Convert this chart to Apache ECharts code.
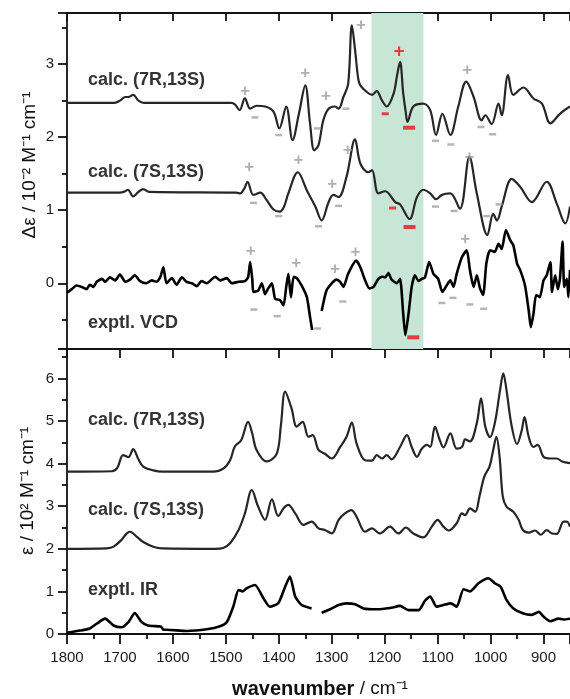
<!DOCTYPE html>
<html><head><meta charset="utf-8">
<script src="https://cdn.jsdelivr.net/npm/echarts@6/dist/echarts.min.js"></script>
<style>html,body{margin:0;padding:0;background:#fff}#c{width:570px;height:699px}</style>
</head><body><div id="c"></div>
<script>
// ---- data: [wavenumber (cm-1), value] ----
const vcd7R = [[1800,2.47],[1710,2.47],[1700,2.5],[1690,2.55],[1684,2.55],[1675,2.58],[1665,2.5],[1655,2.47],[1490,2.47],[1483,2.45],[1474,2.37],[1464,2.53],[1454,2.39],[1442,2.43],[1426,2.42],[1410,2.35],[1399,2.12],[1386,2.42],[1374,1.96],[1362,2.32],[1350,2.71],[1341,2.19],[1333,1.82],[1325,1.89],[1316,2.23],[1306,2.39],[1294,2.42],[1287,2.39],[1278,2.55],[1269,2.73],[1262,3.53],[1256,3.2],[1250,2.8],[1246,2.71],[1234,2.62],[1224,2.58],[1215,2.63],[1205,2.5],[1196,2.42],[1183,2.6],[1177,2.83],[1171,3.03],[1165,2.6],[1160,2.33],[1157,2.21],[1146,2.42],[1127,2.46],[1114,2.37],[1103,2.03],[1091,2.32],[1076,2.03],[1061,2.42],[1046,2.76],[1032,2.55],[1017,2.23],[1010,2.3],[998,2.18],[985,2.46],[979,2.3],[967,2.85],[957,2.58],[938,2.68],[919,2.53],[903,2.46],[887,2.19],[869,2.32],[850,2.42]];
const vcd7S = [[1800,1.24],[1700,1.24],[1690,1.26],[1685,1.28],[1675,1.19],[1665,1.25],[1656,1.29],[1645,1.25],[1480,1.24],[1473,1.23],[1465,1.3],[1459,1.39],[1448,1.21],[1435,1.24],[1423,1.14],[1410,1.01],[1398,0.98],[1390,1.05],[1382,1.23],[1364,1.52],[1347,1.27],[1331,1.05],[1319,0.86],[1306,1.11],[1297,1.21],[1287,1.18],[1272,1.46],[1256,1.97],[1246,1.64],[1231,1.52],[1224,1.55],[1212,1.23],[1199,1.26],[1180,1.11],[1171,1.08],[1153,0.88],[1139,1.18],[1127,1.28],[1114,1.23],[1103,1.15],[1092,1.21],[1076,1.23],[1058,1.02],[1040,1.73],[1026,1.23],[1006,0.66],[995,0.95],[988,0.86],[979,1.05],[960,1.43],[944,1.32],[922,1.11],[894,1.39],[875,1.09],[859,0.82],[850,1.05]];
const vcdExp = [[1800,-0.13],[1791,-0.08],[1782,-0.03],[1772,-0.05],[1763,-0.08],[1757,-0.02],[1750,-0.05],[1744,0.02],[1734,0.06],[1728,0.02],[1719,0.08],[1709,0.04],[1700,0.12],[1690,0.02],[1681,0.05],[1672,0.11],[1662,0.03],[1650,0.0],[1640,0.04],[1631,0.02],[1624,0.08],[1618,0.22],[1612,0.0],[1602,0.07],[1593,-0.02],[1583,0.08],[1574,0.02],[1564,0.0],[1555,-0.04],[1546,0.03],[1536,0.0],[1520,0.09],[1511,0.04],[1498,0.07],[1489,0.0],[1476,0.02],[1464,0.03],[1458,0.08],[1454,0.29],[1450,0.05],[1448,-0.12],[1439,-0.1],[1432,0],[1426,-0.15],[1420,-0.07],[1413,0],[1407,-0.21],[1398,-0.23],[1391,-0.3],[1386,-0.05],[1382,0.13],[1377,-0.19],[1372,0.09],[1366,0.07],[1357,-0.03],[1347,-0.19],[1341,-0.46],[1337,-0.64],[1328,null],[1319,-0.38],[1310,-0.1],[1300,0],[1291,0.05],[1284,0.02],[1278,-0.05],[1269,0.13],[1254,0.31],[1246,0.22],[1237,0.04],[1229,-0.07],[1221,-0.05],[1212,0.06],[1205,0.09],[1199,0.08],[1193,0.14],[1187,0.05],[1177,0.0],[1171,0.06],[1165,-0.42],[1161,-0.71],[1155,-0.42],[1149,-0.05],[1143,0.11],[1136,0.03],[1130,0.06],[1124,0.08],[1116,0.29],[1108,0.13],[1099,0.06],[1091,-0.12],[1083,-0.03],[1076,0.04],[1070,-0.05],[1064,0.13],[1054,0.36],[1045,0.45],[1039,0.18],[1032,-0.05],[1026,0.11],[1020,-0.07],[1014,-0.16],[1008,0.27],[1001,0.45],[992,0.43],[985,0.54],[979,0.47],[971,0.73],[963,0.59],[957,0.52],[950,0.27],[944,0.18],[935,-0.03],[928,-0.37],[924,-0.6],[919,-0.42],[914,-0.16],[907,-0.19],[900,0.04],[894,0.11],[887,0.29],[884,-0.12],[878,0.11],[873,-0.08],[869,0.06],[864,0.57],[861,-0.05],[856,0.06],[853,-0.19],[850,0.18]];

const ir7R = [[1800,3.81],[1715,3.82],[1705,3.9],[1694,4.2],[1684,4.15],[1675,4.34],[1665,4.1],[1656,3.93],[1637,3.84],[1620,3.81],[1524,3.81],[1505,3.88],[1492,4.08],[1483,4.4],[1471,4.55],[1458,4.98],[1450,4.7],[1442,4.32],[1423,4.05],[1404,4.23],[1396,4.9],[1388,5.69],[1376,5.3],[1366,4.87],[1355,4.98],[1344,4.63],[1336,4.67],[1325,4.32],[1313,4.23],[1300,4.12],[1284,4.39],[1272,4.63],[1262,4.96],[1253,4.47],[1237,4.08],[1224,4.07],[1215,4.2],[1205,4.12],[1196,4.2],[1187,4.1],[1171,4.39],[1158,4.67],[1149,4.39],[1139,4.16],[1130,4.35],[1120,4.44],[1114,4.39],[1105,4.87],[1097,4.59],[1089,4.38],[1076,4.71],[1064,4.35],[1054,4.39],[1048,4.57],[1039,4.52],[1026,4.95],[1018,5.53],[1010,4.87],[1001,4.62],[992,4.95],[982,5.73],[976,6.12],[970,5.73],[960,4.87],[950,4.46],[941,4.79],[936,5.09],[928,4.63],[919,4.39],[911,4.44],[900,4.16],[887,4.12],[875,4.12],[865,4.05],[850,4.01]];
const ir7S = [[1800,2.0],[1725,2.01],[1712,2.05],[1697,2.21],[1688,2.35],[1681,2.4],[1668,2.28],[1656,2.16],[1637,2.05],[1620,2.01],[1520,2.0],[1505,2.02],[1492,2.13],[1476,2.44],[1464,2.83],[1451,3.38],[1439,2.99],[1426,2.68],[1413,3.16],[1401,2.77],[1391,2.95],[1382,3.03],[1369,2.83],[1353,2.56],[1338,2.64],[1325,2.48],[1313,2.44],[1300,2.36],[1287,2.68],[1275,2.83],[1263,2.91],[1253,2.75],[1237,2.4],[1224,2.48],[1209,2.36],[1190,2.52],[1174,2.36],[1160,2.5],[1146,2.36],[1127,2.27],[1111,2.52],[1100,2.68],[1089,2.52],[1079,2.43],[1064,2.6],[1054,2.83],[1048,2.79],[1039,2.95],[1029,2.87],[1021,3.23],[1012,3.69],[1002,3.93],[995,4.32],[989,4.63],[983,4.16],[977,3.23],[970,2.99],[957,2.87],[947,2.68],[939,2.44],[928,2.38],[916,2.43],[905,2.33],[894,2.44],[884,2.36],[875,2.35],[862,2.64],[856,2.64],[850,2.52]];
const irExp = [[1800,0.03],[1775,0.08],[1757,0.13],[1744,0.24],[1728,0.36],[1712,0.2],[1697,0.16],[1684,0.28],[1672,0.49],[1659,0.28],[1647,0.2],[1628,0.18],[1622,0.17],[1618,0.1],[1612,0.1],[1574,0.07],[1536,0.11],[1511,0.18],[1498,0.28],[1486,0.64],[1476,1.03],[1468,1.0],[1461,1.07],[1445,1.15],[1429,0.84],[1417,0.64],[1401,0.72],[1388,1.11],[1379,1.35],[1369,0.88],[1357,0.68],[1338,0.6],[1328,null],[1319,0.5],[1303,0.58],[1287,0.68],[1272,0.72],[1256,0.7],[1240,0.6],[1215,0.58],[1190,0.61],[1171,0.66],[1155,0.56],[1136,0.56],[1124,0.78],[1114,0.88],[1102,0.64],[1089,0.68],[1075,0.72],[1064,0.64],[1051,1.05],[1039,1.0],[1023,1.19],[1004,1.31],[992,1.19],[981,1.11],[970,0.8],[957,0.6],[938,0.48],[922,0.45],[909,0.52],[900,0.41],[887,0.3],[872,0.36],[862,0.34],[850,0.36]];

// sign annotations on the VCD panel
const plusGray = [[1464,2.63],[1350,2.88],[1311,2.56],[1245,3.53],[1044,2.92],[1456,1.59],[1363,1.68],[1299,1.35],[1270,1.82],[1040,1.72],[1453,0.44],[1367,0.27],[1294,0.19],[1255,0.42],[1048,0.6]];
const minusGray = [[1445,2.27],[1400,2.03],[1327,2.12],[1273,2.39],[1104,1.95],[1075,1.9],[1018,2.14],[996,2.04],[1448,1.1],[1400,0.92],[1325,0.78],[1287,1.06],[1104,1.05],[1069,0.99],[1007,0.92],[984,1.08],[1447,-0.36],[1403,-0.45],[1327,-0.62],[1279,-0.25],[1092,-0.27],[1071,-0.2],[1039,-0.29],[1013,-0.35]];
const plusRed = [[1173,3.17]];
const minusRedSmall = [[1199,2.32],[1185,1.03]];
const minusRedBig = [[1154,2.13],[1153,0.77],[1146,-0.74]];
const band = [1225, 1127];

// tick labels
const xTickLabels = [900,1000,1100,1200,1300,1400,1500,1600,1700,1800];
const vcdTickLabels = [0,1,2,3];
const irTickLabels = [0,1,2,3,4,5,6];

const X_MIN = 850, X_MAX = 1800, VCD_MIN = -0.9, VCD_MAX = 3.7, IR_MIN = 0, IR_MAX = 6.69;

const FONT = '"Liberation Sans", Arial, sans-serif';
const AX = '#111';
const TW = 1.8;
const chart = echarts.init(document.getElementById('c'), null, {renderer:'canvas'});

const noLabel = {show:false};
const noTick = {show:false};
const tickLine = {color:AX, width:TW};
function xAx(grid, pos, label, tick, minor) {
  return {
    type:'value', gridIndex:grid, position:pos, min:X_MIN, max:X_MAX, inverse:true, splitNumber:10,
    splitLine:{show:false},
    axisLine:{show:true, onZero:false, lineStyle:{color:AX, width:TW}},
    axisTick:tick || noTick, minorTick:minor || {show:false}, minorSplitLine:{show:false},
    axisLabel:label || noLabel
  };
}
function yAx(grid, min, max, split, label) {
  return {
    type:'value', gridIndex:grid, position:'left', min:min, max:max, splitNumber:split,
    splitLine:{show:false},
    axisLine:{show:true, onZero:false, lineStyle:{color:AX, width:TW}},
    axisTick:{show:true, inside:false, length:9, lineStyle:tickLine},
    minorTick:{show:true, splitNumber:2, length:5, lineStyle:tickLine}, minorSplitLine:{show:false},
    axisLabel:label || noLabel
  };
}
const pick = (list, v) => (list.indexOf(Math.round(v)) >= 0 && Math.abs(v - Math.round(v)) < 1e-6) ? String(Math.round(v)) : '';
const xLabel = {show:true, interval:0, margin:16, showMinLabel:false, fontFamily:FONT, fontSize:15, color:'#1a1a1a',
  formatter:v => pick(xTickLabels, v)};
const yLabel = list => ({show:true, interval:0, margin:13, fontFamily:FONT, fontSize:15, color:'#1a1a1a',
  formatter:v => pick(list, v)});

const calcLine = (name, data, xi, yi) => ({type:'line', name, data, xAxisIndex:xi, yAxisIndex:yi, showSymbol:false, symbol:'none', smooth:0.35, lineStyle:{color:'#262626', width:2.2}, z:3, silent:true});
const expLine = (name, data, xi, yi) => ({type:'line', name, data, xAxisIndex:xi, yAxisIndex:yi, showSymbol:false, symbol:'none', smooth:0.2, connectNulls:false, lineStyle:{color:'#000', width:2.6}, z:3, silent:true});
const textSign = (data, txt, color, size) => ({type:'scatter', data, xAxisIndex:0, yAxisIndex:0, symbolSize:1, itemStyle:{color:'rgba(0,0,0,0)'}, label:{show:true, position:'inside', formatter:txt, color, fontSize:size, fontWeight:'bold', fontFamily:FONT}, z:6, silent:true});
const rectSign = (data, size, color) => ({type:'scatter', data, xAxisIndex:0, yAxisIndex:0, symbol:'rect', symbolSize:size, itemStyle:{color}, z:6, silent:true});
const curveLbl = (txt, x, y) => ({type:'text', x, y, style:{text:txt, font:'bold 18px ' + FONT, fill:'#333', textVerticalAlign:'middle'}, z:10});

const option = {
  animation:false,
  backgroundColor:'#fff',
  grid:[
    {left:67, right:0, top:13, height:336, outerBoundsMode:'none'},
    {left:67, right:0, top:349, height:285, outerBoundsMode:'none'}
  ],
  xAxis:[
    xAx(0,'bottom'),
    xAx(0,'top', null, {show:true, inside:true, length:8, lineStyle:tickLine}),
    xAx(1,'bottom', xLabel, {show:true, inside:false, length:10, lineStyle:tickLine},
        {show:true, splitNumber:2, length:5, lineStyle:tickLine}),
    xAx(1,'top', null, {show:true, inside:true, length:9, lineStyle:tickLine})
  ],
  yAxis:[
    yAx(0,VCD_MIN,VCD_MAX,5, yLabel(vcdTickLabels)),
    yAx(1,IR_MIN,IR_MAX,7, yLabel(irTickLabels))
  ],
  series:[
    {type:'line', data:[[X_MAX, null]], xAxisIndex:0, yAxisIndex:0, z:1, silent:true, symbol:'none',
     markArea:{silent:true, itemStyle:{color:'#c8e6d6'}, data:[[{xAxis:band[0], yAxis:VCD_MIN},{xAxis:band[1], yAxis:VCD_MAX}]]}},
    calcLine('vcd7R', vcd7R, 0, 0),
    calcLine('vcd7S', vcd7S, 0, 0),
    expLine('vcdExp', vcdExp, 0, 0),
    calcLine('ir7R', ir7R, 2, 1),
    calcLine('ir7S', ir7S, 2, 1),
    expLine('irExp', irExp, 2, 1),
    textSign(plusGray, '+', '#9c9c9c', 17),
    textSign(plusRed, '+', '#e8141c', 19),
    rectSign(minusGray, [7,2.5], '#a3a3a3'),
    rectSign(minusRedSmall, [7,3], '#e8141c'),
    rectSign(minusRedBig, [12,4], '#e8141c')
  ],
  graphic:[
    curveLbl('calc. (7R,13S)', 88, 80),
    curveLbl('calc. (7S,13S)', 88, 172),
    curveLbl('exptl. VCD', 88, 323),
    curveLbl('calc. (7R,13S)', 88, 420),
    curveLbl('calc. (7S,13S)', 88, 510),
    curveLbl('exptl. IR', 88, 590),
    {type:'text', x:30, y:165, rotation:Math.PI/2,
     style:{text:'Δε / 10⁻² M⁻¹ cm⁻¹', font:'19px ' + FONT, fill:'#111', textAlign:'center', textVerticalAlign:'middle'}},
    {type:'text', x:28, y:491, rotation:Math.PI/2,
     style:{text:'ε / 10² M⁻¹ cm⁻¹', font:'19px ' + FONT, fill:'#111', textAlign:'center', textVerticalAlign:'middle'}},
    {type:'text', x:320, y:689,
     style:{text:'{b|wavenumber} / cm⁻¹', font:'19px ' + FONT, fill:'#111', textAlign:'center', textVerticalAlign:'middle',
       rich:{b:{fontWeight:'bold', fontSize:20, fontFamily:FONT, fill:'#111'}}}}
  ]
};
chart.setOption(option);
</script></body></html>
